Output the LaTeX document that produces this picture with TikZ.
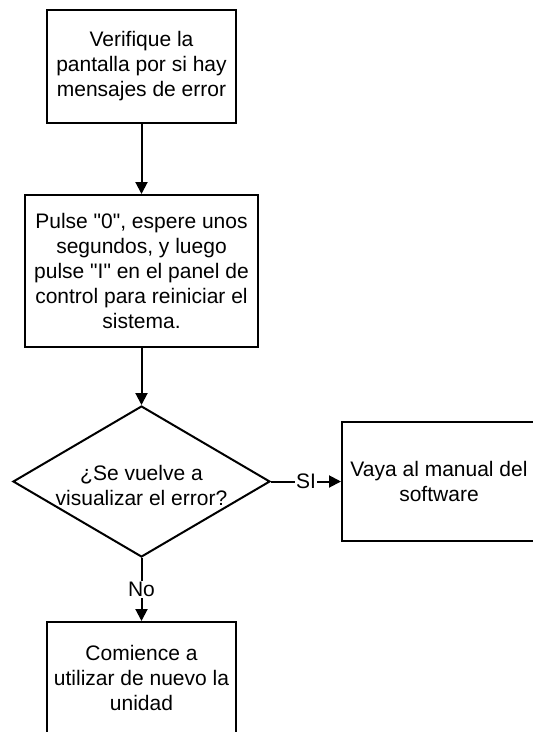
\documentclass[tikz,border=0pt]{standalone}
\usepackage{fontspec}
\setmainfont{Liberation Sans}[Ligatures=TeXOff]
\usetikzlibrary{shapes.geometric,arrows.meta}
\begin{document}
\begin{tikzpicture}[x=1pt,y=-1pt,
  ft/.style={font=\fontsize{21}{25}\selectfont},
  box/.style={draw,line width=2pt,rectangle,inner sep=0pt,align=center,ft},
  decision/.style={draw,diamond,line width=2pt,inner sep=0pt},
  txt/.style={align=center,inner sep=0pt,ft},
  arr/.style={line width=2pt,-{Triangle[length=12pt,width=12pt]}},
  lbl/.style={fill=white,inner sep=1pt,ft}]
\path[use as bounding box,clip] (0,0) rectangle (533,732);
\node[box,minimum width=189pt,minimum height=113pt] (b1) at (141.5,66.5)
  {Verifique la\\pantalla por si hay\\mensajes de error};
\node[box,minimum width=233pt,minimum height=152pt] (b2) at (141.5,271)
  {Pulse "0", espere unos\\segundos, y luego\\pulse "I" en el panel de\\control para reiniciar el\\sistema.};
\node[decision,minimum width=257pt,minimum height=151pt] (d) at (141.5,481.5) {};
\node[txt] (dt) at (141.5,485) {¿Se vuelve a\\visualizar el error?};
\node[box,minimum width=194pt,minimum height=119pt] (b3) at (439,481.5)
  {Vaya al manual del\\software};
\node[box,minimum width=189pt,minimum height=112pt] (b4) at (141.5,678)
  {Comience a\\utilizar de nuevo la\\unidad};
\draw[arr] (b1) -- (b2);
\draw[arr] (b2) -- (d.north);
\draw[arr] (d.east) -- node[lbl] (si) {SI} (b3.west);
\draw[arr] (d.south) -- node[lbl] (no) {No} (b4.north);
\end{tikzpicture}
\end{document}
